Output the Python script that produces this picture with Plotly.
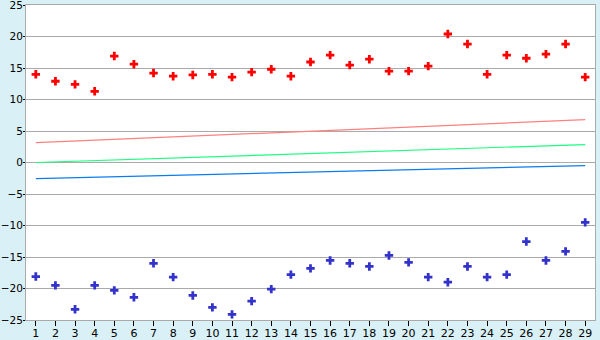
import plotly.graph_objects as go

days = list(range(1, 30))
red_pts = [14.0, 12.9, 12.4, 11.3, 16.9, 15.6, 14.2, 13.7, 13.9, 14.0,
           13.55, 14.35, 14.8, 13.7, 15.95, 17.05, 15.45, 16.4, 14.5, 14.5,
           15.3, 20.4, 18.8, 14.0, 17.05, 16.55, 17.2, 18.8, 13.55]
blue_pts = [-18.1, -19.5, -23.3, -19.5, -20.3, -21.4, -16.0, -18.2, -21.1, -23.0,
            -24.1, -22.0, -20.1, -17.8, -16.8, -15.55, -16.0, -16.5, -14.75, -15.85,
            -18.2, -19.0, -16.5, -18.2, -17.8, -12.55, -15.55, -14.1, -9.5]
trend_x = [1, 29]
red_trend = [3.15, 6.8]
green_trend = [0.0, 2.85]
blue_trend = [-2.55, -0.5]

fig = go.Figure()
for ys, col in [(red_trend, "#ff8080"), (green_trend, "#1aff80"), (blue_trend, "#0a7cf0")]:
    fig.add_trace(go.Scatter(x=trend_x, y=ys, mode="lines",
                             line=dict(color=col, width=1.2), hoverinfo="skip"))
fig.add_trace(go.Scatter(x=days, y=red_pts, mode="markers",
                         marker=dict(symbol="cross", size=7, color="#ff0000", line=dict(width=0))))
fig.add_trace(go.Scatter(x=days, y=blue_pts, mode="markers",
                         marker=dict(symbol="cross", size=7, color="#3333cc", line=dict(width=0))))

fig.update_layout(
    width=600, height=340, showlegend=False,
    margin=dict(l=26, r=5, t=5, b=20),
    paper_bgcolor="#d9f0f6", plot_bgcolor="#ffffff",
    font=dict(family="DejaVu Sans", size=11, color="#000000"),
    xaxis=dict(range=[0.5, 29.5], tickmode="array", tickvals=days,
               ticktext=[str(d) for d in days], showgrid=False, zeroline=False,
               showline=True, linecolor="#aaaaaa", mirror=True, automargin=False,
               ticks="outside", ticklen=5, tickcolor="#000000",
               ticklabelstandoff=-2, ticklabeloverflow="allow"),
    yaxis=dict(range=[-25, 25], dtick=5, showgrid=True, gridcolor="#aaaaaa",
               zeroline=False, showline=True, linecolor="#aaaaaa", mirror=True,
               ticks="outside", ticklen=2, tickcolor="#000000",
               ticklabelstandoff=-2, automargin=False,
               tickfont=dict(size=10.5),
               ticklabeloverflow="allow"),
)
fig.write_html("out.html")
